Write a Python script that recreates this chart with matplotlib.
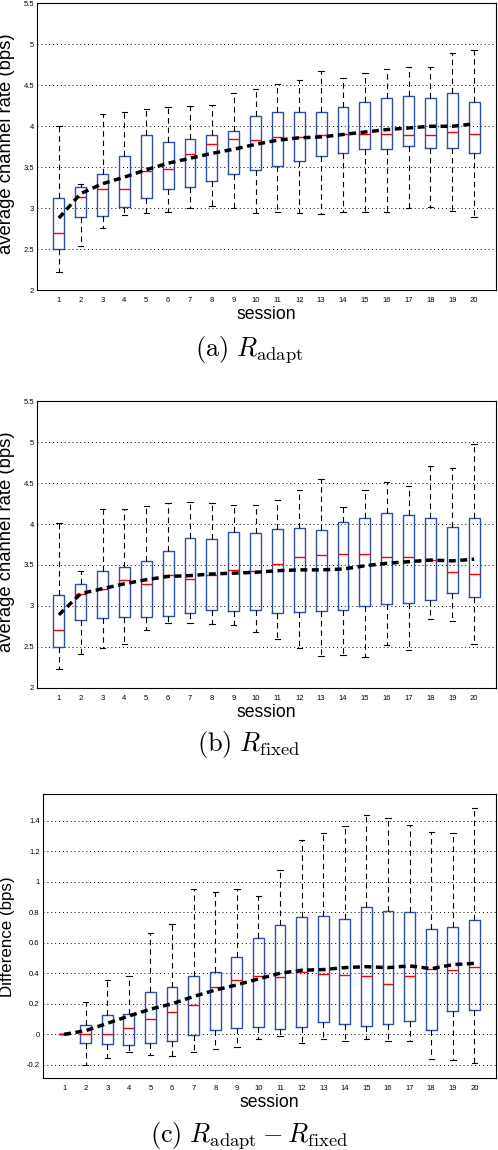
import matplotlib
matplotlib.use('Agg')
import matplotlib.pyplot as plt
import numpy as np

plt.rcParams['font.family'] = ['Liberation Sans', 'DejaVu Sans']
plt.rcParams['mathtext.fontset'] = 'cm'

sessions = list(range(1, 21))

# Panel (a): R_adapt
a_whishi = [4.00, 3.30, 4.15, 4.17, 4.21, 4.24, 4.25, 4.26, 4.41, 4.46, 4.51, 4.57, 4.67, 4.59, 4.65, 4.70, 4.72, 4.72, 4.90, 4.93]
a_q3 = [3.13, 3.26, 3.42, 3.64, 3.89, 3.81, 3.85, 3.90, 3.94, 4.12, 4.18, 4.18, 4.17, 4.23, 4.30, 4.35, 4.37, 4.35, 4.41, 4.30]
a_med = [2.70, 3.14, 3.24, 3.23, 3.45, 3.48, 3.66, 3.78, 3.85, 3.83, 3.87, 3.87, 3.89, 3.91, 3.91, 3.91, 3.89, 3.90, 3.93, 3.91]
a_q1 = [2.50, 2.89, 2.91, 3.01, 3.13, 3.24, 3.26, 3.33, 3.42, 3.47, 3.52, 3.58, 3.64, 3.68, 3.72, 3.72, 3.76, 3.73, 3.73, 3.67]
a_whislo = [2.22, 2.54, 2.76, 2.92, 2.94, 2.96, 3.00, 3.03, 3.00, 2.94, 2.95, 2.94, 2.93, 2.95, 2.95, 2.96, 3.00, 3.02, 2.97, 2.90]
a_mean = [2.88, 3.18, 3.30, 3.38, 3.47, 3.55, 3.61, 3.67, 3.72, 3.78, 3.83, 3.86, 3.87, 3.90, 3.93, 3.96, 3.98, 4.00, 4.00, 4.03]

# Panel (b): R_fixed
b_whishi = [4.01, 3.43, 4.18, 4.18, 4.22, 4.26, 4.27, 4.26, 4.23, 4.23, 4.29, 4.42, 4.55, 4.21, 4.41, 4.51, 4.47, 4.71, 4.68, 4.98]
b_q3 = [3.13, 3.27, 3.43, 3.48, 3.55, 3.67, 3.83, 3.82, 3.90, 3.89, 3.94, 3.95, 3.93, 4.02, 4.07, 4.13, 4.11, 4.07, 3.96, 4.07]
b_med = [2.71, 3.15, 3.21, 3.32, 3.27, 3.38, 3.33, 3.38, 3.44, 3.43, 3.51, 3.60, 3.62, 3.63, 3.63, 3.60, 3.60, 3.56, 3.41, 3.39]
b_q1 = [2.50, 2.83, 2.85, 2.87, 2.87, 2.88, 2.91, 2.95, 2.94, 2.95, 2.91, 2.93, 2.94, 2.95, 3.00, 3.02, 3.04, 3.07, 3.16, 3.11]
b_whislo = [2.23, 2.41, 2.48, 2.54, 2.70, 2.79, 2.79, 2.78, 2.77, 2.68, 2.60, 2.48, 2.39, 2.40, 2.38, 2.52, 2.46, 2.84, 2.82, 2.54]
b_mean = [2.89, 3.15, 3.21, 3.27, 3.32, 3.36, 3.37, 3.39, 3.40, 3.41, 3.43, 3.44, 3.44, 3.45, 3.49, 3.52, 3.54, 3.56, 3.55, 3.57]

# Panel (c): R_adapt - R_fixed
c_whishi = [0.0, 0.21, 0.354, 0.385, 0.665, 0.724, 0.952, 0.93, 0.952, 0.907, 1.079, 1.27, 1.32, 1.367, 1.439, 1.419, 1.373, 1.328, 1.32, 1.485]
c_q3 = [0.0, 0.059, 0.124, 0.13, 0.274, 0.313, 0.385, 0.411, 0.509, 0.633, 0.718, 0.771, 0.777, 0.758, 0.836, 0.81, 0.803, 0.692, 0.705, 0.751]
c_med = [0.0, 0.0, 0.0, 0.041, 0.10, 0.143, 0.189, 0.313, 0.359, 0.385, 0.378, 0.41, 0.397, 0.39, 0.384, 0.332, 0.384, 0.43, 0.424, 0.443]
c_q1 = [0.0, -0.059, -0.065, -0.072, -0.059, -0.046, -0.007, 0.026, 0.039, 0.046, 0.037, 0.05, 0.083, 0.07, 0.057, 0.07, 0.09, 0.031, 0.155, 0.162]
c_whislo = [0.0, -0.2, -0.157, -0.117, -0.135, -0.141, -0.117, -0.098, -0.083, -0.033, -0.013, -0.055, -0.033, -0.046, -0.028, -0.046, -0.046, -0.159, -0.17, -0.186]
c_mean = [0.0, 0.024, 0.072, 0.12, 0.165, 0.20, 0.248, 0.29, 0.324, 0.363, 0.40, 0.42, 0.424, 0.437, 0.443, 0.437, 0.448, 0.43, 0.456, 0.465]

y_ticks_ab = [2, 2.5, 3, 3.5, 4, 4.5, 5, 5.5]
y_ticks_c = [-0.2, 0, 0.2, 0.4, 0.6, 0.8, 1, 1.2, 1.4]

W, H = 498, 1150
fig = plt.figure(figsize=(W / 100, H / 100), dpi=100)

BLUE = '#3050A8'


def px_axes(left, top, right, bottom):
    return fig.add_axes([left / W, 1 - bottom / H, (right - left) / W, (bottom - top) / H])


def draw_panel(ax, whislo, q1, med, q3, whishi, mean, ylim, yticks, ytl, ylabel, ylsize):
    stats = []
    for i in range(len(sessions)):
        stats.append(dict(whislo=whislo[i], q1=q1[i], med=med[i], q3=q3[i], whishi=whishi[i]))
    for yt in yticks:
        ax.axhline(yt, color='black', lw=0.7, ls=(0, (1, 3)), zorder=0)
    ax.bxp(stats, positions=sessions, widths=0.5, capwidths=0.25, showfliers=False,
           boxprops=dict(color=BLUE, lw=1.0),
           medianprops=dict(color='red', lw=1.0),
           whiskerprops=dict(color='black', lw=0.8, ls=(0, (5, 3.5))),
           capprops=dict(color='black', lw=0.8),
           manage_ticks=False)
    ax.plot(sessions, mean, color='black', lw=2.5, ls=(0, (2.0, 1.3)), zorder=5)
    ax.set_xlim(0, 21)
    ax.set_ylim(*ylim)
    ax.set_xticks(sessions)
    ax.set_xticklabels([str(s) for s in sessions])
    ax.set_yticks(yticks)
    ax.set_yticklabels(ytl)
    ax.tick_params(length=0, labelsize=5.5, pad=2)
    ax.tick_params(axis='x', pad=5)
    for s in ax.spines.values():
        s.set_linewidth(0.8)
    ax.set_xlabel('session', fontsize=12.7)
    ax.set_ylabel(ylabel, fontsize=ylsize)


ax1 = px_axes(37, 3.3, 496, 290.3)
draw_panel(ax1, a_whislo, a_q1, a_med, a_q3, a_whishi, a_mean, (2, 5.5), y_ticks_ab,
           ['2', '2.5', '3', '3.5', '4', '4.5', '5', '5.5'], 'average channel rate (bps)', 13.3)
ax1.xaxis.set_label_coords(0.5, -16 / 287)
ax1.yaxis.set_label_coords(-22 / 459, 0.51)

ax2 = px_axes(37, 401.3, 496, 687.7)
draw_panel(ax2, b_whislo, b_q1, b_med, b_q3, b_whishi, b_mean, (2, 5.5), y_ticks_ab,
           ['2', '2.5', '3', '3.5', '4', '4.5', '5', '5.5'], 'average channel rate (bps)', 13.3)
ax2.xaxis.set_label_coords(0.5, -16 / 286)
ax2.yaxis.set_label_coords(-22 / 459, 0.51)

ax3 = px_axes(42.5, 794.3, 496, 1078.3)
draw_panel(ax3, c_whislo, c_q1, c_med, c_q3, c_whishi, c_mean, (-0.288, 1.572), y_ticks_c,
           ['-0.2', '0', '0.2', '0.4', '0.6', '0.8', '1', '1.2', '1.4'], 'Difference (bps)', 12.2)
ax3.xaxis.set_label_coords(0.5, -16 / 284)
ax3.yaxis.set_label_coords(-27.5 / 453.5, 0.5)

fig.text(0.5, 1 - 350 / H, r'$\mathrm{(a)}\ R_{\mathrm{adapt}}$', ha='center', va='center', fontsize=19)
fig.text(0.5, 1 - 745 / H, r'$\mathrm{(b)}\ R_{\mathrm{fixed}}$', ha='center', va='center', fontsize=19)
fig.text(0.5, 1 - 1136 / H, r'$\mathrm{(c)}\ R_{\mathrm{adapt}} - R_{\mathrm{fixed}}$', ha='center', va='center', fontsize=19)

fig.savefig('out.png', dpi=100)
